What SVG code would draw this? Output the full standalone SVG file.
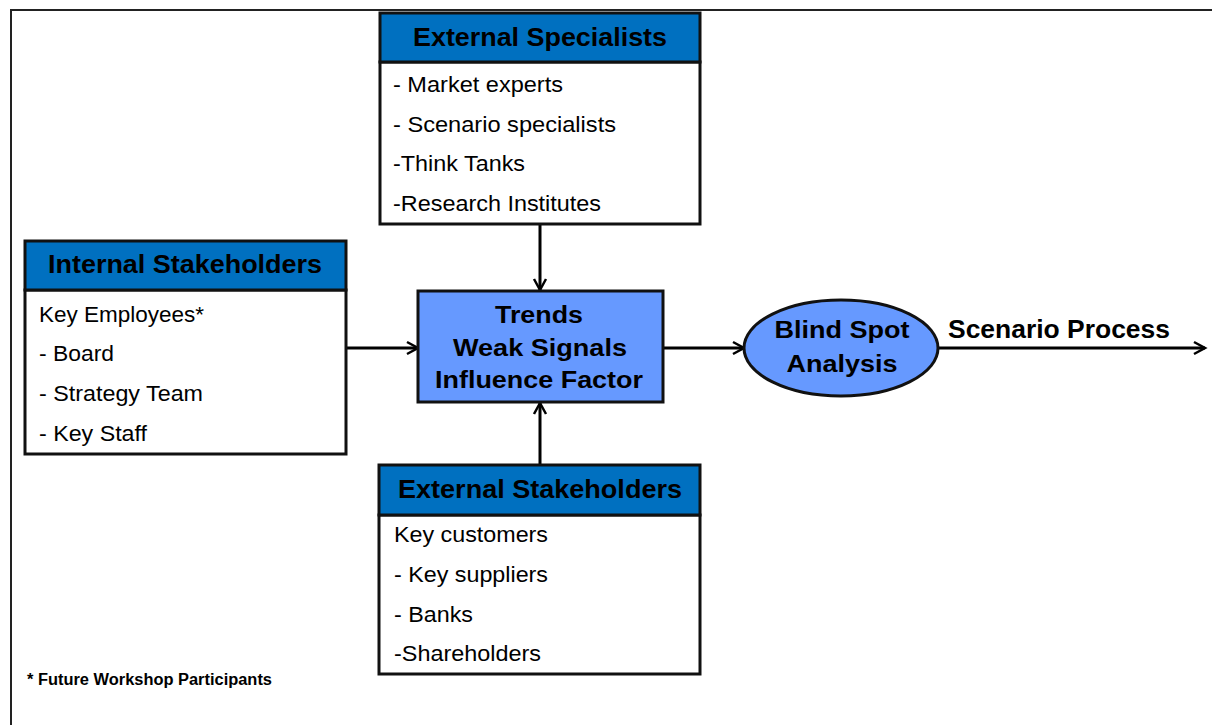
<svg xmlns="http://www.w3.org/2000/svg" width="1212" height="725" viewBox="0 0 1212 725">
  <defs>
    <marker id="arrow" markerWidth="16" markerHeight="16" refX="13" refY="8" orient="auto" markerUnits="userSpaceOnUse">
      <path d="M2,2 L13,8 L2,14" fill="none" stroke="#000" stroke-width="2.5"/>
    </marker>
    <style>
      .frame { fill: none; stroke: #222; stroke-width: 2; }
      .hdr { fill: #0070C0; stroke: #111; stroke-width: 3; }
      .body { fill: #fff; stroke: #111; stroke-width: 3; }
      .core { fill: #6699FF; stroke: #111; stroke-width: 3; }
      text { font-family: "Liberation Sans", Arial, sans-serif; fill: #000; }
      .hdr-t { font-weight: bold; font-size: 25px; text-anchor: middle; }
      .item { font-size: 22px; }
      .core-t { font-weight: bold; font-size: 24px; text-anchor: middle; }
      .lbl { font-weight: bold; font-size: 25px; }
      .note { font-weight: bold; font-size: 16px; }
      .conn { stroke: #000; stroke-width: 3; fill: none; }
    </style>
  </defs>

  <rect width="1212" height="725" fill="#fff"/>
  <!-- outer frame -->
  <path class="frame" d="M11,740 L11,10 L1220,10"/>

  <!-- connectors -->
  <g id="connectors">
    <line class="conn" x1="540" y1="224" x2="540" y2="290" marker-end="url(#arrow)"/>
    <line class="conn" x1="540" y1="465" x2="540" y2="403" marker-end="url(#arrow)"/>
    <line class="conn" x1="346" y1="348" x2="418" y2="348" marker-end="url(#arrow)"/>
    <line class="conn" x1="663" y1="348" x2="744" y2="348" marker-end="url(#arrow)"/>
    <line class="conn" x1="938" y1="348" x2="1205" y2="348" marker-end="url(#arrow)"/>
  </g>

  <g id="external-specialists">
    <rect class="body" x="380" y="62" width="320" height="162"/>
    <rect class="hdr" x="380" y="13" width="320" height="49"/>
    <text class="hdr-t" x="540" y="46" textLength="254" lengthAdjust="spacingAndGlyphs">External Specialists</text>
    <text class="item" x="393" y="92" textLength="170" lengthAdjust="spacingAndGlyphs">- Market experts</text>
    <text class="item" x="393" y="132" textLength="223" lengthAdjust="spacingAndGlyphs">- Scenario specialists</text>
    <text class="item" x="393" y="171" textLength="132" lengthAdjust="spacingAndGlyphs">-Think Tanks</text>
    <text class="item" x="393" y="211" textLength="208" lengthAdjust="spacingAndGlyphs">-Research Institutes</text>
  </g>

  <g id="internal-stakeholders">
    <rect class="body" x="25" y="290" width="321" height="164"/>
    <rect class="hdr" x="25" y="241" width="321" height="49"/>
    <text class="hdr-t" x="185" y="273" textLength="274" lengthAdjust="spacingAndGlyphs">Internal Stakeholders</text>
    <text class="item" x="39" y="322" textLength="165" lengthAdjust="spacingAndGlyphs">Key Employees*</text>
    <text class="item" x="39" y="361" textLength="75" lengthAdjust="spacingAndGlyphs">- Board</text>
    <text class="item" x="39" y="401" textLength="164" lengthAdjust="spacingAndGlyphs">- Strategy Team</text>
    <text class="item" x="39" y="441" textLength="108" lengthAdjust="spacingAndGlyphs">- Key Staff</text>
  </g>

  <g id="signals">
    <rect class="core" x="418" y="291" width="245" height="111"/>
    <text class="core-t" x="539" y="323" textLength="88" lengthAdjust="spacingAndGlyphs">Trends</text>
    <text class="core-t" x="540" y="356" textLength="174" lengthAdjust="spacingAndGlyphs">Weak Signals</text>
    <text class="core-t" x="539" y="388" textLength="208" lengthAdjust="spacingAndGlyphs">Influence Factor</text>
  </g>

  <g id="external-stakeholders">
    <rect class="body" x="379" y="515" width="321" height="159"/>
    <rect class="hdr" x="379" y="465" width="321" height="50"/>
    <text class="hdr-t" x="540" y="498" textLength="284" lengthAdjust="spacingAndGlyphs">External Stakeholders</text>
    <text class="item" x="394" y="542" textLength="154" lengthAdjust="spacingAndGlyphs">Key customers</text>
    <text class="item" x="394" y="582" textLength="154" lengthAdjust="spacingAndGlyphs">- Key suppliers</text>
    <text class="item" x="394" y="622" textLength="79" lengthAdjust="spacingAndGlyphs">- Banks</text>
    <text class="item" x="394" y="661" textLength="147" lengthAdjust="spacingAndGlyphs">-Shareholders</text>
  </g>

  <g id="blind-spot">
    <ellipse class="core" cx="841" cy="348" rx="97" ry="48"/>
    <text class="core-t" x="842" y="338" textLength="135" lengthAdjust="spacingAndGlyphs">Blind Spot</text>
    <text class="core-t" x="842" y="372" textLength="111" lengthAdjust="spacingAndGlyphs">Analysis</text>
  </g>

  <g id="scenario-label">
    <text class="lbl" x="948" y="338" textLength="222" lengthAdjust="spacingAndGlyphs">Scenario Process</text>
  </g>

  <g id="footnote">
    <text class="note" x="27" y="685" textLength="245" lengthAdjust="spacingAndGlyphs">* Future Workshop Participants</text>
  </g>
</svg>
